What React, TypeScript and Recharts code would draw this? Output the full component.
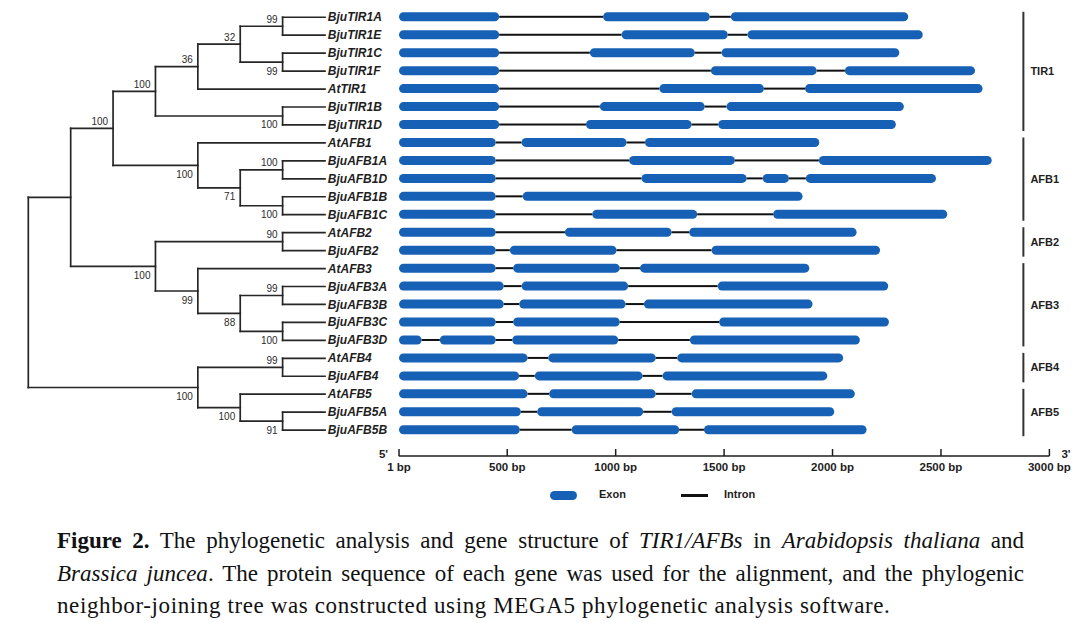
import React from 'react';
import { BarChart, Bar, XAxis, YAxis, ReferenceLine, Legend, ComposedChart, Scatter } from 'recharts';

// leaves, top to bottom
const GENES = [
  'BjuTIR1A', 'BjuTIR1E', 'BjuTIR1C', 'BjuTIR1F', 'AtTIR1', 'BjuTIR1B', 'BjuTIR1D',
  'AtAFB1', 'BjuAFB1A', 'BjuAFB1D', 'BjuAFB1B', 'BjuAFB1C',
  'AtAFB2', 'BjuAFB2',
  'AtAFB3', 'BjuAFB3A', 'BjuAFB3B', 'BjuAFB3C', 'BjuAFB3D',
  'AtAFB4', 'BjuAFB4',
  'AtAFB5', 'BjuAFB5A', 'BjuAFB5B',
];

// exon [start, end] in bp, same order as GENES
const EXONS: number[][][] = [
  [[1, 463], [942, 1434], [1531, 2349]],
  [[1, 463], [1027, 1517], [1608, 2416]],
  [[1, 463], [881, 1365], [1488, 2308]],
  [[1, 463], [1439, 1927], [2057, 2657]],
  [[1, 463], [1201, 1684], [1873, 2692]],
  [[1, 463], [927, 1411], [1511, 2329]],
  [[1, 463], [863, 1350], [1473, 2292]],
  [[1, 447], [566, 1050], [1135, 1939]],
  [[1, 447], [1062, 1550], [1937, 2734]],
  [[1, 447], [1119, 1604], [1678, 1799], [1877, 2477]],
  [[1, 447], [571, 1862]],
  [[1, 447], [892, 1376], [1726, 2529]],
  [[1, 447], [766, 1258], [1339, 2111]],
  [[1, 447], [512, 1004], [1442, 2219]],
  [[1, 447], [527, 1019], [1112, 1893]],
  [[1, 484], [566, 1058], [1470, 2257]],
  [[1, 484], [555, 1046], [1130, 1908]],
  [[1, 447], [527, 1019], [1477, 2260]],
  [[1, 105], [189, 447], [523, 1012], [1342, 2126]],
  [[1, 594], [689, 1185], [1284, 2049]],
  [[1, 555], [627, 1124], [1216, 1976]],
  [[1, 594], [693, 1185], [1350, 2103]],
  [[1, 563], [638, 1127], [1258, 2008]],
  [[1, 558], [797, 1293], [1407, 2157]],
];

const BP_TICKS = [1, 500, 1000, 1500, 2000, 2500, 3000];

// internal nodes: id, depth level, bootstrap, children
const TREE: [string, number, number | null, string[]][] = [
  ['root', 0, null, ['n1', 'afb45']],
  ['n1', 1, null, ['n2', 'afb23']],
  ['n2', 2, 100, ['tir1', 'afb1']],
  ['tir1', 3, 100, ['n36', 'tir1bd']],
  ['n36', 4, 36, ['n32', 'AtTIR1']],
  ['n32', 5, 32, ['tir1ae', 'tir1cf']],
  ['tir1ae', 6, 99, ['BjuTIR1A', 'BjuTIR1E']],
  ['tir1cf', 6, 99, ['BjuTIR1C', 'BjuTIR1F']],
  ['tir1bd', 6, 100, ['BjuTIR1B', 'BjuTIR1D']],
  ['afb1', 4, 100, ['AtAFB1', 'n71']],
  ['n71', 5, 71, ['afb1ad', 'afb1bc']],
  ['afb1ad', 6, 100, ['BjuAFB1A', 'BjuAFB1D']],
  ['afb1bc', 6, 100, ['BjuAFB1B', 'BjuAFB1C']],
  ['afb23', 3, 100, ['afb2', 'afb3']],
  ['afb2', 6, 90, ['AtAFB2', 'BjuAFB2']],
  ['afb3', 4, 99, ['AtAFB3', 'n88']],
  ['n88', 5, 88, ['afb3ab', 'afb3cd']],
  ['afb3ab', 6, 99, ['BjuAFB3A', 'BjuAFB3B']],
  ['afb3cd', 6, 100, ['BjuAFB3C', 'BjuAFB3D']],
  ['afb45', 4, 100, ['afb4', 'afb5']],
  ['afb4', 6, 99, ['AtAFB4', 'BjuAFB4']],
  ['afb5', 5, 100, ['AtAFB5', 'afb5ab']],
  ['afb5ab', 6, 91, ['BjuAFB5A', 'BjuAFB5B']],
];
const LEAF_LEVEL = 7;

// group name, first gene, last gene
const GROUPS: [string, string, string][] = [
  ['TIR1', 'BjuTIR1A', 'BjuTIR1D'],
  ['AFB1', 'AtAFB1', 'BjuAFB1C'],
  ['AFB2', 'AtAFB2', 'BjuAFB2'],
  ['AFB3', 'AtAFB3', 'BjuAFB3D'],
  ['AFB4', 'AtAFB4', 'BjuAFB4'],
  ['AFB5', 'AtAFB5', 'BjuAFB5B'],
];

const LEGEND_ITEMS = ['Exon', 'Intron'];

const EXON_COLOR = '#1660b6';
const INK = '#1e1e1e';
const SANS = '"Liberation Sans", Arial, sans-serif';
const BRACKET_BP = 2880;

const PLOT_TOP = 8.3;
const PLOT_H = 430.8;
const GENE_LEFT = 320;
const GENE_W = 760;

// stacked table: lead, e1, g1, e2, g2, ...
const geneRows = GENES.map((name, i) => {
  const ex = EXONS[i];
  const row: Record<string, any> = { name, lead: ex[0][0] };
  ex.forEach(([s, e], k) => {
    row[`e${k + 1}`] = e - s;
    if (k < ex.length - 1) row[`g${k + 1}`] = ex[k + 1][0] - e;
  });
  return row;
});
const SEGMENTS = ['e1', 'g1', 'e2', 'g2', 'e3', 'g3', 'e4'];

// tree layout
const nodeMap = new Map(TREE.map((n) => [n[0], n]));
const yPos: Record<string, number> = {};
GENES.forEach((g, i) => (yPos[g] = i));
const yOf = (id: string): number => {
  if (id in yPos) return yPos[id];
  const kids = nodeMap.get(id)![3].map(yOf);
  yPos[id] = kids.reduce((a, b) => a + b, 0) / kids.length;
  return yPos[id];
};
const levelOf = (id: string) => (nodeMap.has(id) ? nodeMap.get(id)![1] : LEAF_LEVEL);
TREE.forEach((n) => yOf(n[0]));

const branches: { x1: number; y1: number; x2: number; y2: number }[] = [];
const supports: { x: number; y: number; s: number; above: boolean }[] = [];
TREE.forEach(([id, level, , kids]) => {
  const ys = kids.map((k) => yPos[k]);
  branches.push({ x1: level, y1: Math.min(...ys), x2: level, y2: Math.max(...ys) });
  kids.forEach((k) => {
    branches.push({ x1: level, y1: yPos[k], x2: levelOf(k), y2: yPos[k] });
    const node = nodeMap.get(k);
    if (node && node[2] != null) {
      supports.push({ x: node[1], y: yPos[k], s: node[2], above: yPos[k] === Math.min(...ys) });
    }
  });
});

const SupportLabel = (p: any) => (
  <text x={p.cx - 5} y={p.payload.above ? p.cy - 3.5 : p.cy + 12.5} textAnchor="end"
    fontSize={10} fill="#2a2a2a" fontFamily={SANS}>
    {p.payload.s}
  </text>
);

const GeneTick = (p: any) => (
  <text x={p.x - 71} y={p.y + 4} fontSize={12} fontWeight="bold" fontStyle="italic"
    fill={INK} fontFamily={SANS}>
    {p.payload.value}
  </text>
);

const BpTick = (p: any) => {
  const v = p.payload.value;
  return (
    <g>
      <line x1={p.x} x2={p.x} y1={p.y - 7} y2={p.y} stroke={INK} strokeWidth={1.5} />
      <text x={p.x} y={p.y + 15} textAnchor="middle" fontSize={11.5} fontWeight="bold" fill={INK} fontFamily={SANS}>
        {v} bp
      </text>
      {v === BP_TICKS[0] && (
        <text x={p.x - 11} y={p.y + 2} textAnchor="end" fontSize={11.5} fontWeight="bold" fill={INK} fontFamily={SANS}>5'</text>
      )}
      {v === BP_TICKS[BP_TICKS.length - 1] && (
        <text x={p.x + 12} y={p.y + 2} fontSize={11.5} fontWeight="bold" fill={INK} fontFamily={SANS}>3'</text>
      )}
    </g>
  );
};

const IntronShape = (p: any) =>
  p.width > 0 ? <rect x={p.x} y={p.y + p.height / 2 - 1} width={p.width} height={2} fill="#111" /> : <g />;

const bracketShape = (label: string) => (p: any) => (
  <g>
    <line x1={p.x1} x2={p.x2} y1={p.y1 - 5.5} y2={p.y2 + 6} stroke="#333" strokeWidth={2} />
    <text x={p.x1 + 7} y={(p.y1 + p.y2) / 2 + 4} fontSize={11} fontWeight="bold" fill={INK} fontFamily={SANS}>
      {label}
    </text>
  </g>
);

const GeneLegend = () => (
  <div style={{ position: 'relative', height: 18, fontFamily: SANS, fontSize: 11, fontWeight: 'bold', color: INK }}>
    <div style={{ position: 'absolute', left: 230, top: 4.5, width: 27, height: 9, borderRadius: 4.5, background: EXON_COLOR }} />
    <span style={{ position: 'absolute', left: 279, top: 2 }}>{LEGEND_ITEMS[0]}</span>
    <div style={{ position: 'absolute', left: 361, top: 7.5, width: 27, height: 3, background: '#111' }} />
    <span style={{ position: 'absolute', left: 404, top: 2 }}>{LEGEND_ITEMS[1]}</span>
  </div>
);

const TreeChart = () => (
  <ComposedChart width={330} height={PLOT_TOP + PLOT_H + 10}
    margin={{ top: PLOT_TOP, right: 5, bottom: 10, left: 28.3 }}>
    <XAxis type="number" dataKey="x" domain={[0, LEAF_LEVEL]} hide />
    <YAxis type="number" dataKey="y" domain={[-0.5, GENES.length - 0.5]} reversed hide />
    {branches.map((b, i) => (
      <ReferenceLine key={i} segment={[{ x: b.x1, y: b.y1 }, { x: b.x2, y: b.y2 }]}
        stroke="#262626" strokeWidth={1.7} strokeLinecap="square" ifOverflow="visible" />
    ))}
    <Scatter data={supports} shape={SupportLabel} isAnimationActive={false} />
  </ComposedChart>
);

const GeneChart = () => (
  <BarChart width={GENE_W} height={504} data={geneRows} layout="vertical" barSize={9}
    margin={{ top: PLOT_TOP, right: 30.6, bottom: 0, left: 0 }}>
    <XAxis type="number" domain={[0, 3000]} ticks={BP_TICKS} interval={0} height={30}
      tickLine={false} tickSize={0} tickMargin={0} tick={BpTick}
      axisLine={{ stroke: INK, strokeWidth: 1.5 }} />
    <YAxis type="category" dataKey="name" width={78.8} interval={0} axisLine={false}
      tickLine={false} tickSize={0} tickMargin={0} tick={GeneTick} padding={{ top: 0, bottom: 16.8 }} />
    <Bar dataKey="lead" stackId="g" fill="none" isAnimationActive={false} legendType="none" />
    {SEGMENTS.map((k) =>
      k.startsWith('e') ? (
        <Bar key={k} dataKey={k} stackId="g" fill={EXON_COLOR} radius={4.5} isAnimationActive={false} />
      ) : (
        <Bar key={k} dataKey={k} stackId="g" shape={IntronShape} isAnimationActive={false} />
      )
    )}
    {GROUPS.map(([label, first, last]) => (
      <ReferenceLine key={label} segment={[{ x: BRACKET_BP, y: first }, { x: BRACKET_BP, y: last }]}
        ifOverflow="visible" shape={bracketShape(label)} />
    ))}
    <Legend verticalAlign="bottom" content={GeneLegend} wrapperStyle={{ left: 0, width: GENE_W }} />
  </BarChart>
);

const App: React.FC = () => (
  <div style={{ position: 'absolute', left: 0, top: 0, width: 1080, height: 623, background: '#fff', overflow: 'hidden' }}>
    <div style={{ position: 'absolute', left: 0, top: 0 }}>
      <TreeChart />
    </div>
    <div style={{ position: 'absolute', left: GENE_LEFT, top: 0 }}>
      <GeneChart />
    </div>
    <div style={{ position: 'absolute', left: 57, top: 525, width: 967, fontFamily: '"Liberation Serif", serif', fontSize: 23, lineHeight: '32.5px', color: '#111' }}>
      <div style={{ textAlign: 'justify', textAlignLast: 'justify' }}>
        <b>Figure 2.</b> The phylogenetic analysis and gene structure of <i>TIR1/AFBs</i> in <i>Arabidopsis thaliana</i> and
      </div>
      <div style={{ textAlign: 'justify', textAlignLast: 'justify' }}>
        <i>Brassica juncea</i>. The protein sequence of each gene was used for the alignment, and the phylogenic
      </div>
      <div style={{ letterSpacing: 0.62 }}>
        neighbor-joining tree was constructed using MEGA5 phylogenetic analysis software.
      </div>
    </div>
  </div>
);

export default App;
